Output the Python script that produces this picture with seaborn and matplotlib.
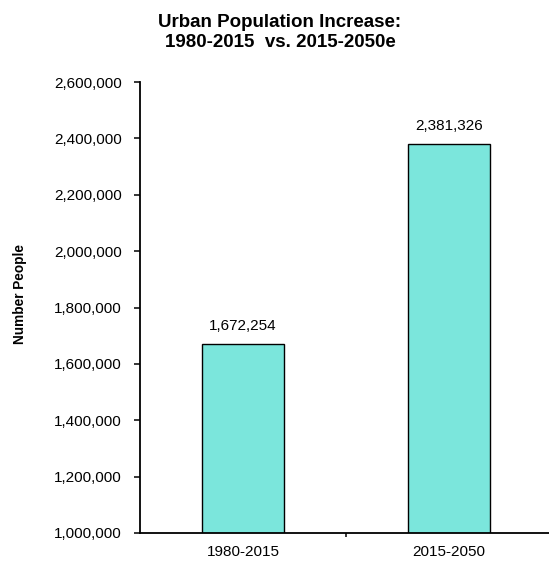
import matplotlib
matplotlib.use("Agg")
import matplotlib.pyplot as plt
import matplotlib.ticker as mticker
import seaborn as sns
import pandas as pd

periods = ["1980-2015", "2015-2050"]
increase = [1672254, 2381326]
y_ticks = list(range(1000000, 2600001, 200000))
title_lines = ["Urban Population Increase:", "1980-2015  vs. 2015-2050e"]

sns.set_theme(style="white")
plt.rcParams["font.family"] = ["Liberation Sans", "DejaVu Sans"]
plt.rcParams["text.color"] = "black"
plt.rcParams["axes.labelcolor"] = "black"
plt.rcParams["xtick.color"] = "black"
plt.rcParams["ytick.color"] = "black"

df = pd.DataFrame({"period": periods, "people": increase})

W, H = 549, 564
fig = plt.figure(figsize=(W / 100, H / 100), dpi=100)
ax = fig.add_axes([140 / W, 31 / H, 412 / W, 451 / H])

sns.barplot(data=df, x="period", y="people", color="#7BE6DC", width=0.40,
            edgecolor="black", linewidth=1.0, saturation=1, ax=ax)

ax.set_ylim(1000000, 2600000)
ax.set_xlim(-0.5, 1.5)
ax.set_yticks(y_ticks)
ax.yaxis.set_major_formatter(mticker.FuncFormatter(lambda v, p: f"{int(v):,}"))
ax.tick_params(axis="y", direction="out", length=4, width=1.1,
               labelsize=11, pad=9, left=True)
ax.tick_params(axis="x", which="major", length=0, labelsize=11, pad=9)
ax.set_xticks([0.5], minor=True)
ax.tick_params(axis="x", which="minor", direction="out", length=3, width=1.1,
               bottom=True)

for side in ["top", "right"]:
    ax.spines[side].set_visible(False)
for side in ["left", "bottom"]:
    ax.spines[side].set_color("black")
    ax.spines[side].set_linewidth(1.3)

ax.set_xlabel("")
ax.set_ylabel("")
fig.text(20 / W, 1 - 294 / H, "Number People", rotation=90, ha="center",
         va="center", fontsize=9.8, fontweight="bold")

for i, v in enumerate(increase):
    ax.annotate(f"{v:,}", (i, v), xytext=(0, 9.5), textcoords="offset points",
                ha="center", va="baseline", fontsize=11)

for line, base in zip(title_lines, [27, 47]):
    fig.text(280 / W, 1 - base / H, line, ha="center", va="baseline",
             fontsize=13.5, fontweight="bold")

fig.savefig("out.png", dpi=100)
